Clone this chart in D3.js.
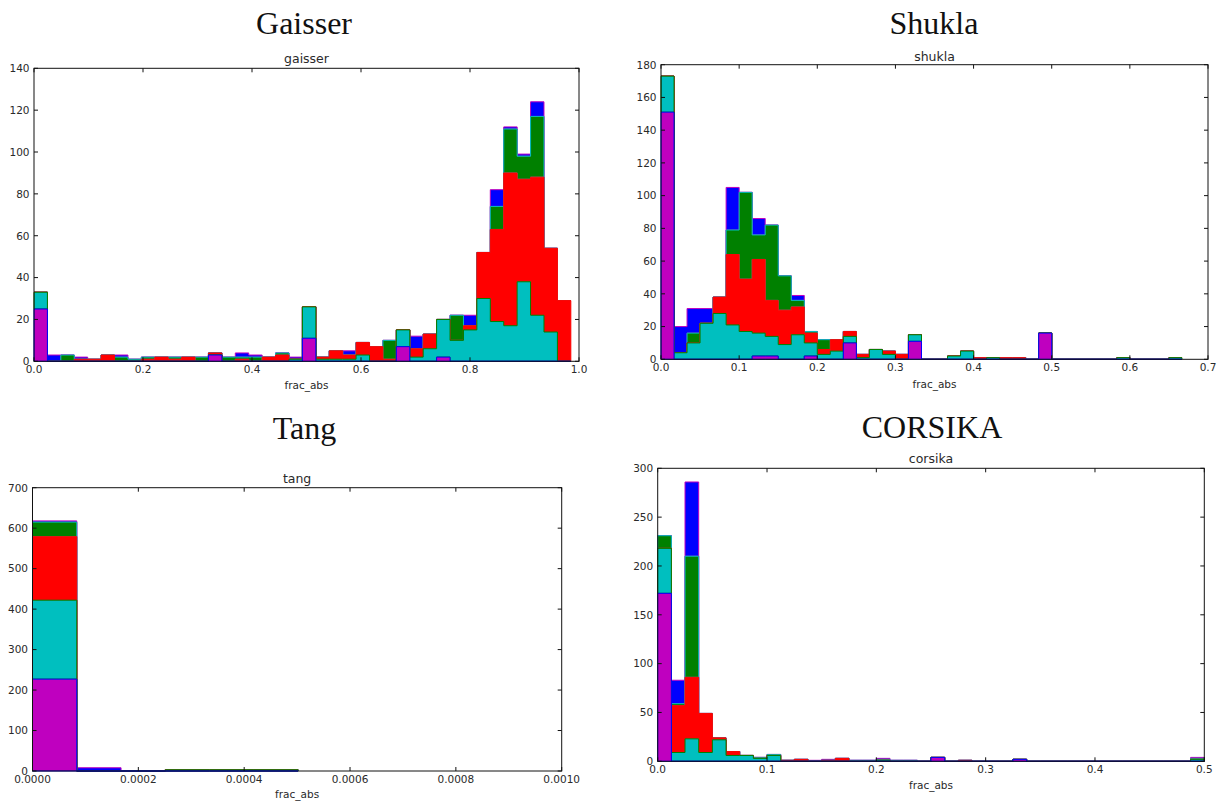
<!DOCTYPE html>
<html><head><meta charset="utf-8">
<script src="https://cdn.jsdelivr.net/npm/d3@7"></script>
<style>body{margin:0;background:#fff} svg{display:block}</style>
</head><body>
<svg id="chart" width="1220" height="803"></svg>
<script>
// ---- series order (bottom to top of stack) ----
const seriesNames = ["magenta", "cyan", "red", "green", "blue"];

// ---- Gaisser (40 bins over [0, 0.985]) ----
const gaisserRange = [0, 0.985];
const gaisserMagenta = [25,0,0,0,0,0,0,0,0,0, 0,0,0,3,0,0,0,0,0,0, 11,0,0,0,0,0,0,7,0,0, 2,0,0,0,0,0,0,0,0,0];
const gaisserCyan    = [8,0,0,0,0,0,0,0,0,0, 0,0,0,0,0,0,0,0,0,1, 15,1,1,1,3,0,0,8,2,6, 18,10,15,30,19,17,38,22,14,0];
const gaisserRed     = [0,0,0,1,1,3,0,0,1,2, 1,2,0,1,0,1,0,2,3,0, 0,1,4,2,6,7,1,0,4,7, 0,0,2,22,44,73,49,66,40,29];
const gaisserGreen   = [0,0,3,0,0,0,2,1,1,0, 1,0,2,0,2,1,2,0,1,0, 0,0,0,0,0,0,9,0,0,0, 0,12,0,0,11,21,11,29,0,0];
const gaisserBlue    = [0,3,0,1,0,0,1,0,0,0, 0,0,0,0,0,2,1,0,0,1, 0,0,0,2,0,0,0,0,6,0, 0,0,5,0,8,1,1,7,0,0];
const gaisserXTicks = [0, 0.2, 0.4, 0.6, 0.8, 1.0];
const gaisserYTicks = [0, 20, 40, 60, 80, 100, 120, 140];

// ---- Shukla (40 bins over [0, 0.6667]) ----
const shuklaRange = [0, 0.6667];
const shuklaMagenta = [151,0,0,0,0,0,0,2,2,0, 0,2,0,0,10,0,0,0,0,11, 0,0,0,0,0,0,0,0,0,16, 0,0,0,0,0,0,0,0,0,0];
const shuklaCyan    = [22,4,10,22,28,21,17,14,12,9, 15,8,3,5,4,1,6,3,0,4, 0,0,2,5,0,1,0,0,0,0, 0,0,0,0,0,1,0,0,0,1];
const shuklaRed     = [0,0,0,0,10,43,32,45,22,21, 17,6,3,7,3,2,0,2,3,0, 0,0,0,0,1,0,1,1,0,0, 0,0,0,0,0,0,0,0,0,0];
const shuklaGreen   = [0,0,6,0,0,15,53,15,46,21, 4,1,6,0,0,0,0,0,0,0, 0,0,0,0,0,0,0,0,0,0, 0,0,0,0,0,0,0,0,0,0];
const shuklaBlue    = [0,16,15,9,0,26,0,10,0,0, 3,0,0,0,0,0,0,0,0,0, 0,0,0,0,0,0,0,0,0,0, 0,0,0,0,0,0,0,0,0,0];
const shuklaXTicks = [0, 0.1, 0.2, 0.3, 0.4, 0.5, 0.6, 0.7];
const shuklaYTicks = [0, 20, 40, 60, 80, 100, 120, 140, 160, 180];

// ---- Tang (6 bins over [0, 0.000502]) ----
const tangRange = [0, 0.000502];
const tangMagenta = [227, 0, 0, 0, 0, 0];
const tangCyan    = [195, 0, 0, 3, 3, 3];
const tangRed     = [157, 0, 0, 0, 0, 0];
const tangGreen   = [36, 0, 0, 0, 0, 0];
const tangBlue    = [3, 8, 0, 0, 0, 0];
const tangXTicks = [0, 0.0002, 0.0004, 0.0006, 0.0008, 0.0010];
const tangYTicks = [0, 100, 200, 300, 400, 500, 600, 700];

// ---- CORSIKA (40 bins over [0, 0.5]) ----
const corsikaRange = [0, 0.5];
const corsikaMagenta = [172,0,0,0,0,0,0,0,0,0, 0,0,0,0,0,0,0,0,0,0, 4,0,0,0,0,0,2,0,0,0, 0,0,0,0,0,0,0,0,0,0];
const corsikaCyan    = [46,9,23,9,22,6,6,3,6,0, 0,0,0,0,0,0,1,0,0,0, 0,0,0,0,0,0,0,0,0,0, 0,0,0,0,0,0,0,0,0,2];
const corsikaRed     = [0,48,63,40,2,4,0,0,0,1, 2,0,1,3,0,0,0,0,0,0, 0,0,1,0,0,0,0,0,0,0, 0,0,0,0,0,0,0,0,0,0];
const corsikaGreen   = [13,2,124,0,0,0,0,1,1,0, 0,0,0,0,1,1,1,1,1,0, 0,0,0,0,0,0,0,0,0,0, 0,0,0,0,0,0,0,0,0,1];
const corsikaBlue    = [0,24,76,0,0,0,0,0,0,0, 0,1,1,0,0,0,1,0,0,0, 0,0,0,0,0,0,0,0,0,0, 0,0,0,0,0,0,0,0,0,1];
const corsikaXTicks = [0, 0.1, 0.2, 0.3, 0.4, 0.5];
const corsikaYTicks = [0, 50, 100, 150, 200, 250, 300];

// ---- styling ----
const fillColors = ["#bf00bf", "#00bfbf", "#ff0000", "#008000", "#0000ff"];
const edgeColors = ["#0000ff", "#008000", "#ff0000", "#00bfbf", "#bf00bf"];

const panels = [
  { title: "Gaisser", sub: "gaisser", titleX: 304, titleY: 34,
    left: 34, right: 579, top: 68.3, bottom: 361.3,
    xDomain: [0, 1], yDomain: [0, 140], range: gaisserRange,
    series: [gaisserMagenta, gaisserCyan, gaisserRed, gaisserGreen, gaisserBlue],
    xTicks: gaisserXTicks, yTicks: gaisserYTicks, xFmt: ".1f", subY: 63, labelY: 389 },
  { title: "Shukla", sub: "shukla", titleX: 934, titleY: 34,
    left: 661, right: 1208, top: 64.7, bottom: 359.3,
    xDomain: [0, 0.7], yDomain: [0, 180], range: shuklaRange,
    series: [shuklaMagenta, shuklaCyan, shuklaRed, shuklaGreen, shuklaBlue],
    xTicks: shuklaXTicks, yTicks: shuklaYTicks, xFmt: ".1f", subY: 61, labelY: 388 },
  { title: "Tang", sub: "tang", titleX: 304.5, titleY: 439,
    left: 32.5, right: 561.7, top: 487.7, bottom: 771,
    xDomain: [0, 0.001], yDomain: [0, 700], range: tangRange,
    series: [tangMagenta, tangCyan, tangRed, tangGreen, tangBlue],
    xTicks: tangXTicks, yTicks: tangYTicks, xFmt: ".4f", subY: 483, labelY: 798 },
  { title: "CORSIKA", sub: "corsika", titleX: 932, titleY: 438,
    left: 657.7, right: 1204.3, top: 468.3, bottom: 761.3,
    xDomain: [0, 0.5], yDomain: [0, 300], range: corsikaRange,
    series: [corsikaMagenta, corsikaCyan, corsikaRed, corsikaGreen, corsikaBlue],
    xTicks: corsikaXTicks, yTicks: corsikaYTicks, xFmt: ".1f", subY: 463.3, labelY: 789 }
];

const svg = d3.select("#chart");
const tickFont = "'DejaVu Sans', sans-serif";

panels.forEach(p => {
  const g = svg.append("g");
  const x = d3.scaleLinear().domain(p.xDomain).range([p.left, p.right]);
  const y = d3.scaleLinear().domain(p.yDomain).range([p.bottom, p.top]);
  const n = p.series[0].length;
  const w = (p.range[1] - p.range[0]) / n;
  const edges = d3.range(n + 1).map(i => p.range[0] + i * w);

  // stacked layers
  const layers = [];
  let prev = new Array(n).fill(0);
  p.series.forEach(s => {
    const t = prev.map((v, i) => v + s[i]);
    layers.push({ bot: prev, top: t });
    prev = t;
  });
  const line = d3.line().x(d => x(d[0])).y(d => y(d[1]));
  // draw from top layer down (matplotlib stacked stepfilled order)
  for (let k = layers.length - 1; k >= 0; k--) {
    const { bot, top } = layers[k];
    const pts = [[edges[0], bot[0]]];
    for (let i = 0; i < n; i++) { pts.push([edges[i], top[i]]); pts.push([edges[i + 1], top[i]]); }
    for (let i = n - 1; i >= 0; i--) { pts.push([edges[i + 1], bot[i]]); pts.push([edges[i], bot[i]]); }
    g.append("path").attr("d", line(pts) + "Z")
      .attr("fill", fillColors[k]).attr("stroke", edgeColors[k])
      .attr("stroke-width", 1).attr("stroke-linejoin", "miter");
  }

  // frame
  g.append("rect").attr("x", p.left).attr("y", p.top)
    .attr("width", p.right - p.left).attr("height", p.bottom - p.top)
    .attr("fill", "none").attr("stroke", "#111").attr("stroke-width", 1);

  // ticks (inward on all four sides)
  const tl = 4;
  p.xTicks.forEach(t => {
    const xx = x(t);
    g.append("line").attr("x1", xx).attr("x2", xx).attr("y1", p.bottom).attr("y2", p.bottom - tl).attr("stroke", "#111");
    g.append("line").attr("x1", xx).attr("x2", xx).attr("y1", p.top).attr("y2", p.top + tl).attr("stroke", "#111");
    g.append("text").attr("x", xx).attr("y", p.bottom + 12).attr("text-anchor", "middle")
      .attr("font-family", tickFont).attr("font-size", 10.5).attr("fill", "#2a2a2a")
      .text(d3.format(p.xFmt)(t));
  });
  p.yTicks.forEach(t => {
    const yy = y(t);
    g.append("line").attr("x1", p.left).attr("x2", p.left + tl).attr("y1", yy).attr("y2", yy).attr("stroke", "#111");
    g.append("line").attr("x1", p.right).attr("x2", p.right - tl).attr("y1", yy).attr("y2", yy).attr("stroke", "#111");
    g.append("text").attr("x", p.left - 4.5).attr("y", yy + 3.8).attr("text-anchor", "end")
      .attr("font-family", tickFont).attr("font-size", 10.5).attr("fill", "#2a2a2a")
      .text(d3.format("d")(t));
  });

  const cx = (p.left + p.right) / 2;
  g.append("text").attr("x", cx).attr("y", p.subY).attr("text-anchor", "middle")
    .attr("font-family", tickFont).attr("font-size", 12.5).attr("fill", "#2a2a2a").text(p.sub);
  g.append("text").attr("x", cx).attr("y", p.labelY).attr("text-anchor", "middle")
    .attr("font-family", tickFont).attr("font-size", 10.5).attr("fill", "#2a2a2a").text("frac_abs");
  svg.append("text").attr("x", p.titleX).attr("y", p.titleY).attr("text-anchor", "middle")
    .attr("font-family", "'Liberation Serif', 'DejaVu Serif', serif").attr("font-size", 32)
    .attr("fill", "#111").text(p.title);
});
</script>
</body></html>
